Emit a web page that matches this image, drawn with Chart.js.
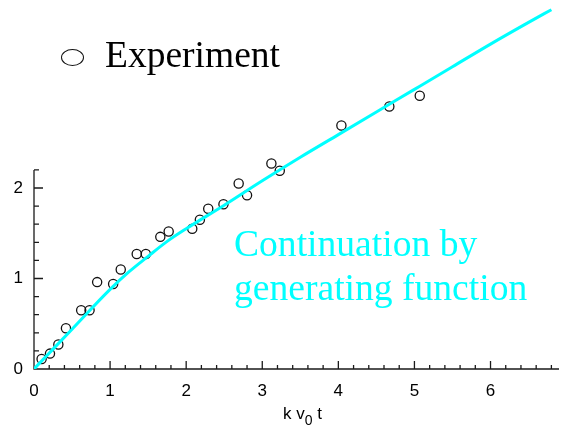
<!DOCTYPE html>
<html>
<head>
<meta charset="utf-8">
<script src="https://cdn.jsdelivr.net/npm/chart.js@4/dist/chart.umd.min.js"></script>
<style>
  html, body { margin: 0; padding: 0; background: #fff; }
  #wrap { position: relative; width: 561px; height: 428px; overflow: hidden; background: #fff; }
  #c { position: absolute; left: 0; top: 0; }
  .txt { position: absolute; white-space: nowrap; }
  #legendMark { position: absolute; left: 60.5px; top: 48.5px; width: 21px; height: 15px;
    border: 1.4px solid #111; border-radius: 50%; }
  #legendText { left: 105px; top: 36px; font: 37.5px/37px "Liberation Serif", "Times New Roman", serif; color: #000; }
  #note { left: 234px; top: 222px; font: 37.6px/43.5px "Liberation Serif", "Times New Roman", serif; color: #00ffff; }
  #xtitle { left: 283px; top: 405px; font: 17px/17px "Liberation Sans", Arial, sans-serif; color: #000; }
  #xtitle span { font-size: 14px; position: relative; top: 6px; }
</style>
</head>
<body>
<div id="wrap">
  <canvas id="c" width="561" height="428"></canvas>
  <div id="legendMark"></div>
  <div class="txt" id="legendText">Experiment</div>
  <div class="txt" id="note">Continuation by<br>generating function</div>
  <div class="txt" id="xtitle">k v<span>0</span> t</div>
</div>
<script>
// ---- data ----
const EXP_X = [0.10, 0.21, 0.32, 0.42, 0.62, 0.73, 0.83, 1.04, 1.14, 1.35, 1.47, 1.66, 1.77, 2.08, 2.18, 2.29, 2.49, 2.69, 2.80, 3.12, 3.23, 4.04, 4.67, 5.07];
const EXP_Y = [0.11, 0.17, 0.27, 0.45, 0.65, 0.65, 0.96, 0.94, 1.10, 1.27, 1.27, 1.46, 1.52, 1.55, 1.65, 1.77, 1.82, 2.05, 1.92, 2.27, 2.19, 2.69, 2.90, 3.02];

const LINE_X = [0, 0.5, 1.0, 1.25, 1.5, 1.75, 2.0, 2.5, 3.0, 3.5, 4.0, 4.5, 5.0, 5.5, 6.0, 6.5, 6.8];
const LINE_Y = [0, 0.44, 0.88, 1.075, 1.245, 1.41, 1.55, 1.81, 2.08, 2.34, 2.59, 2.84, 3.09, 3.34, 3.59, 3.83, 3.97];

const X_TICKS = [0, 1, 2, 3, 4, 5, 6];
const Y_TICKS = [0, 1, 2];
const X_MINOR = [0.2, 0.4, 0.6, 0.8, 1.2, 1.4, 1.6, 1.8, 2.2, 2.4, 2.6, 2.8, 3.2, 3.4, 3.6, 3.8, 4.2, 4.4, 4.6, 4.8, 5.2, 5.4, 5.6, 5.8, 6.2, 6.4, 6.6, 6.8];
const Y_MINOR = [0.2, 0.4, 0.6, 0.8, 1.2, 1.4, 1.6, 1.8, 2.2];
const Y_AXIS_TOP = 2.2;

const expPoints = EXP_X.map((x, i) => ({ x, y: EXP_Y[i] }));
const linePoints = LINE_X.map((x, i) => ({ x, y: LINE_Y[i] }));

const axisPlugin = {
  id: 'axisPlugin',
  beforeDatasetsDraw(chart) {
    const { ctx, scales: { x, y } } = chart;
    const x0 = x.getPixelForValue(0);
    const y0 = y.getPixelForValue(0);
    ctx.save();
    ctx.strokeStyle = '#1a1a1a';
    ctx.lineWidth = 1.3;
    ctx.beginPath();
    ctx.moveTo(x0, y.getPixelForValue(Y_AXIS_TOP));
    ctx.lineTo(x0, y0);
    ctx.lineTo(x.right, y0);
    Y_TICKS.forEach(v => { const p = y.getPixelForValue(v); ctx.moveTo(x0, p); ctx.lineTo(x0 + 9, p); });
    Y_MINOR.forEach(v => { const p = y.getPixelForValue(v); ctx.moveTo(x0, p); ctx.lineTo(x0 + 5, p); });
    X_TICKS.forEach(v => { const p = x.getPixelForValue(v); ctx.moveTo(p, y0); ctx.lineTo(p, y0 - 8); });
    X_MINOR.forEach(v => { const p = x.getPixelForValue(v); ctx.moveTo(p, y0); ctx.lineTo(p, y0 - 4); });
    ctx.stroke();
    ctx.restore();
  }
};

const tickFont = { family: '"Liberation Sans", Arial, sans-serif', size: 17 };

new Chart(document.getElementById('c'), {
  type: 'scatter',
  data: {
    datasets: [
      {
        label: 'Continuation by generating function',
        data: linePoints,
        showLine: true,
        borderColor: '#00ffff',
        borderWidth: 3,
        pointRadius: 0,
        fill: false,
        cubicInterpolationMode: 'monotone'
      },
      {
        label: 'Experiment',
        data: expPoints,
        pointStyle: 'circle',
        pointRadius: 4.6,
        pointBorderWidth: 1.3,
        borderColor: '#111',
        backgroundColor: 'rgba(0,0,0,0)',
        showLine: false
      }
    ]
  },
  options: {
    responsive: false,
    animation: false,
    layout: { padding: { left: 0, right: 2, top: 7, bottom: 0 }, autoPadding: false },
    plugins: { legend: { display: false }, tooltip: { enabled: false } },
    scales: {
      x: {
        type: 'linear', min: 0, max: 6.9,
        grid: { display: false, drawTicks: false },
        border: { display: false },
        ticks: { font: tickFont, color: '#000', padding: 12, maxRotation: 0 },
        afterBuildTicks(axis) { axis.ticks = X_TICKS.map(v => ({ value: v })); },
        afterFit(axis) { axis.height = 59; axis.paddingLeft = 0; axis.paddingRight = 0; }
      },
      y: {
        type: 'linear', min: 0, max: 4,
        grid: { display: false, drawTicks: false },
        border: { display: false },
        ticks: { font: tickFont, color: '#000', padding: 11 },
        afterBuildTicks(axis) { axis.ticks = Y_TICKS.map(v => ({ value: v })); },
        afterFit(axis) { axis.width = 34; axis.paddingTop = 0; axis.paddingBottom = 0; }
      }
    }
  },
  plugins: [axisPlugin]
});
</script>
</body>
</html>
